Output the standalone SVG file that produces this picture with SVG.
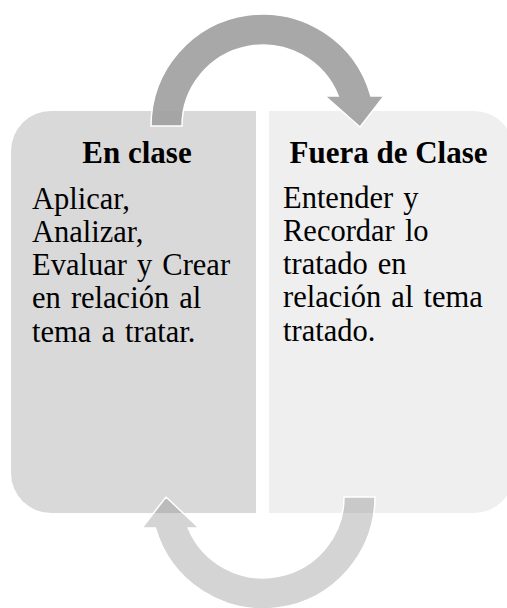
<svg xmlns="http://www.w3.org/2000/svg" width="507" height="608" viewBox="0 0 507 608">
<style>
.h{font-family:"Liberation Serif","Times New Roman",serif;font-weight:bold;font-size:31px;fill:#000;text-anchor:middle}
.b{font-family:"Liberation Serif","Times New Roman",serif;font-size:30.5px;fill:#000;word-spacing:2.5px}
.arr{stroke:#fff;stroke-width:1.5;stroke-linejoin:miter}
</style>
<rect width="507" height="608" fill="#fff"/>
<g id="en-clase">
<path d="M51 111H256V513H51A40 40 0 0 1 11 473V151A40 40 0 0 1 51 111Z" fill="#d9d9d9"/>
<text class="h" x="137" y="163.3">En clase</text>
<text class="b" x="32" y="208.5">Aplicar,</text>
<text class="b" x="32" y="241.8">Analizar,</text>
<text class="b" x="32" y="275">Evaluar y Crear</text>
<text class="b" x="32" y="308.3">en relación al</text>
<text class="b" x="32" y="341.6">tema a tratar.</text>
</g>
<g id="fuera-de-clase">
<path d="M269 111H474A40 40 0 0 1 514 151V473A40 40 0 0 1 474 513H269Z" fill="#efefef"/>
<text class="h" x="388.5" y="163.3">Fuera de Clase</text>
<text class="b" x="283" y="207.5">Entender y</text>
<text class="b" x="283" y="240.8">Recordar lo</text>
<text class="b" x="283" y="274">tratado en</text>
<text class="b" x="283" y="307.3">relación al tema</text>
<text class="b" x="283" y="340.6">tratado.</text>
</g>
<g id="connectors">
<path class="arr" d="M151 126A112 112 0 0 1 370.9 96L384 96L360 127L325 96L338.2 96A81 81 0 0 0 182 126Z" fill="#9f9f9f" fill-opacity="0.9"/>
<path class="arr" d="M375 497A112 112 0 0 1 155.4 528L142 528L166 497L199 528L188.2 528A81 81 0 0 0 344 497Z" fill="#808080" fill-opacity="0.34"/>
</g>
</svg>
